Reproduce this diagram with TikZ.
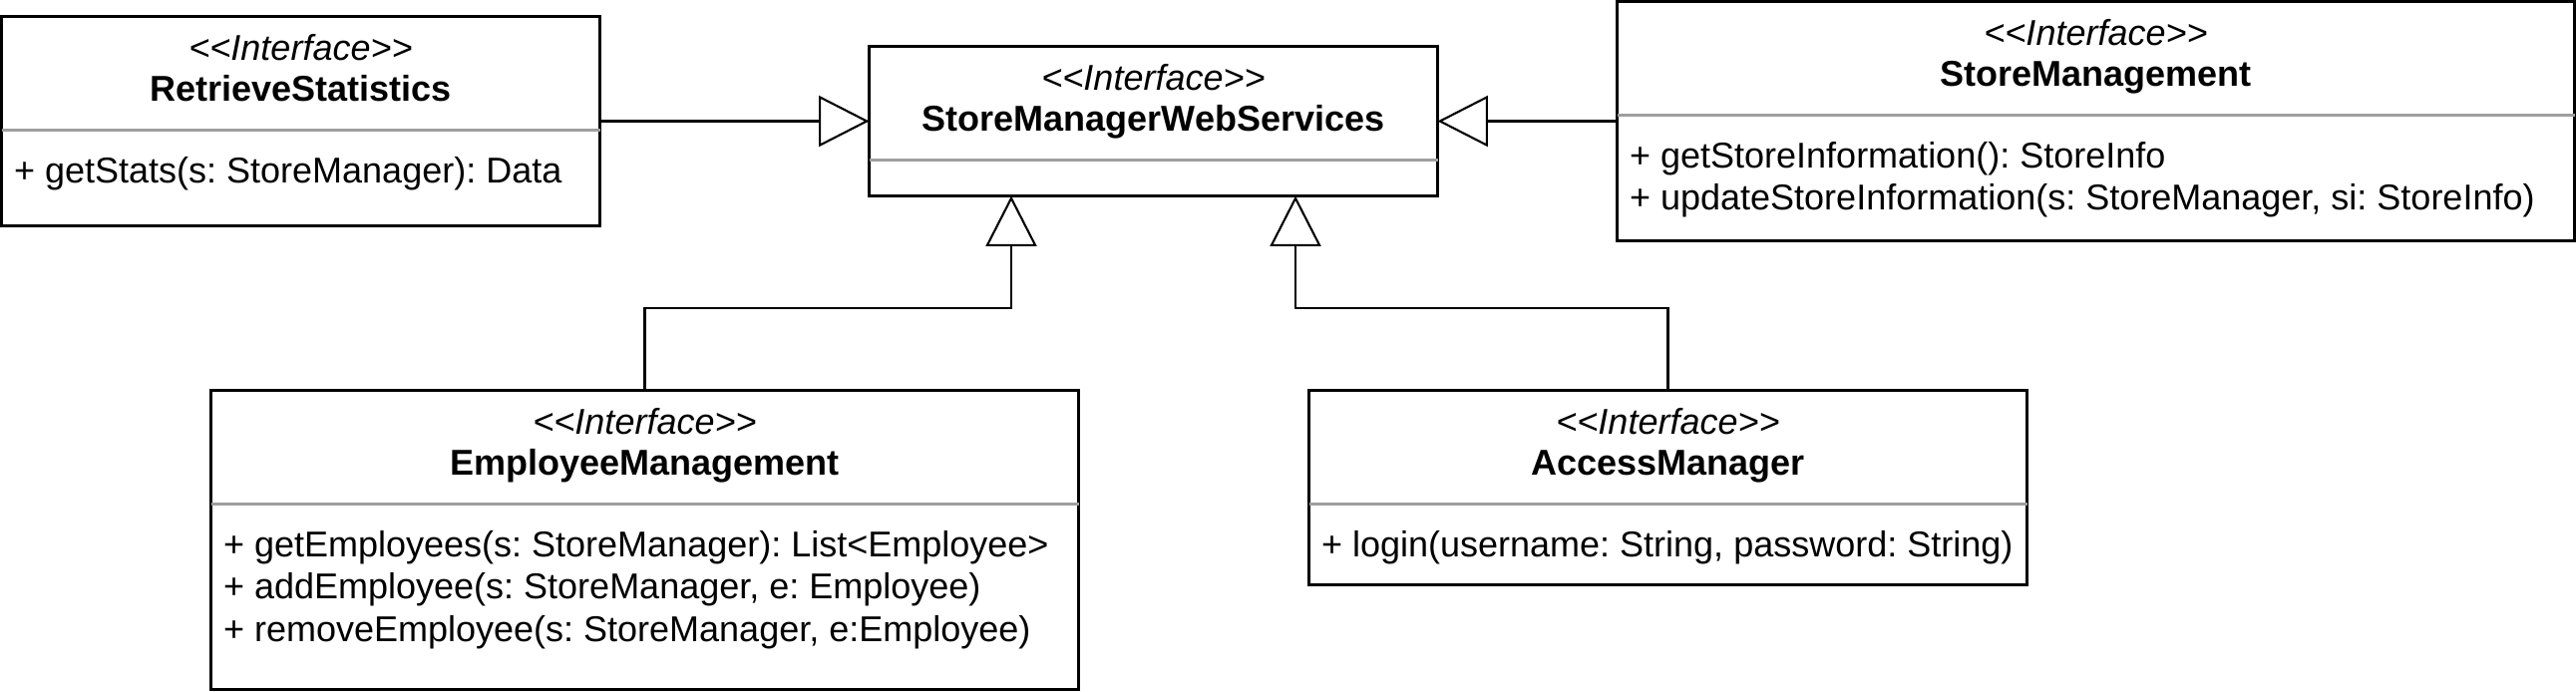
\documentclass[tikz,border=0pt]{standalone}
\usepackage{fontspec}
\setmainfont{Liberation Sans}
\frenchspacing
\usetikzlibrary{arrows.meta,calc,positioning}
\tikzset{
    % Define style for the interface boxes
    klasse/.style={
           rectangle,
           draw=black, line width=1pt,
           inner sep=0pt, outer sep=0pt,
           anchor=north west},
    % Grey line between header and operations
    skille/.style={
           draw=black!38, line width=1pt},
    % Text styles
    stereo/.style={
           inner sep=0pt, anchor=base,
           font=\fontsize{12}{14.2}\selectfont\itshape},
    tittel/.style={
           inner sep=0pt, anchor=base,
           font=\fontsize{12}{14.2}\selectfont\bfseries},
    metode/.style={
           inner sep=0pt, anchor=base west,
           font=\fontsize{12}{14.2}\selectfont},
    % Define arrow style (generalisation)
    arv/.style={
           -{Triangle[open,length=16.8pt,width=17pt]},
           line width=0.7pt}
}
% box with stereotype, name and divider: name, x, y, width, height, title
\newcommand*{\iface}[6]{%
  \node[klasse, minimum width=#4pt, minimum height=#5pt] (#1) at (#2,#3) {};
  \node[stereo] (#1-st) at ($(#1.north)+(0,14.6)$) {<\kern0pt<Interface>\kern0pt>};
  \node[tittel] (#1-nm) at ($(#1.north)+(0,28.3)$) {#6};
  \draw[skille] ($(#1.north west)+(0,38)$) -- ($(#1.north east)+(0,38)$);
}
% one operation line: box, line number, text
\newcommand*{\metode}[3]{%
  \node[metode] (#1-#2) at ($(#1.north west)+(4,{41.4+14.2*#2})$) {#3};
}

\begin{document}
\begin{tikzpicture}[x=1pt,y=-1pt]
\useasboundingbox (0,0) rectangle (861,231);

% Top row
\iface{rs}{0.5}{5.5}{200}{70}{RetrieveStatistics}
\metode{rs}{1}{+ getStats(s: StoreManager): Data}

\iface{smws}{290.5}{15.5}{190}{50}{StoreManagerWebServices}

\iface{sm}{540.5}{0.5}{320}{80}{StoreManagement}
\metode{sm}{1}{+ getStoreInformation(): StoreInfo}
\metode{sm}{2}{+ updateStoreInformation(s: StoreManager, si: StoreInfo)}

% Bottom row
\iface{em}{70.5}{130.5}{290}{100}{EmployeeManagement}
\metode{em}{1}{+ getEmployees(s: StoreManager): List<Employee>}
\metode{em}{2}{+ addEmployee(s: StoreManager, e: Employee)}
\metode{em}{3}{+ removeEmployee(s: StoreManager, e:Employee)}

\iface{am}{437.5}{130.5}{240}{65}{AccessManager}
\metode{am}{1}{+ login(username: String, password: String)}

% Now connect the boxes
\coordinate (smws-l) at ($(smws.south west)!.25!(smws.south east)$);
\coordinate (smws-r) at ($(smws.south west)!.75!(smws.south east)$);
\draw[arv] (rs.east) -- (smws.west);
\draw[arv] (sm.west) -- (smws.east);
\draw[arv] (em.north) -- ++(0,-27.5) -| (smws-l);
\draw[arv] (am.north) -- ++(0,-27.5) -| (smws-r);
\end{tikzpicture}
\end{document}
